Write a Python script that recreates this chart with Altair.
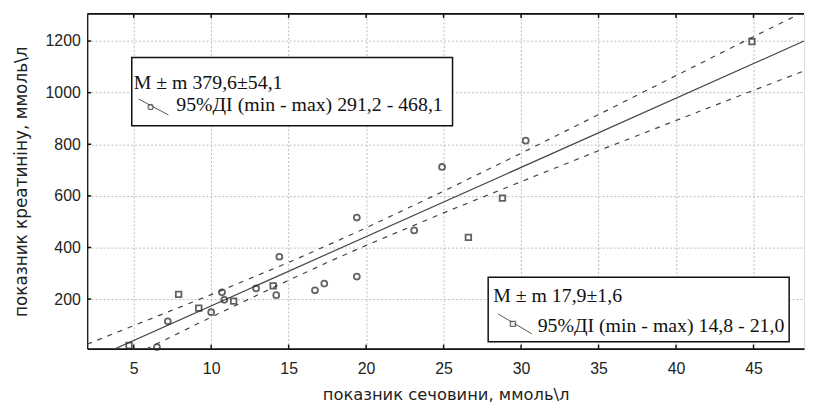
import altair as alt
import pandas as pd

# ---- data ----
x_circle = [7.2, 10.0, 10.7, 10.85, 12.9, 14.2, 14.4, 16.7, 17.3, 19.4, 19.4, 23.1, 24.9, 30.3, 6.5]
y_circle = [114, 149, 226, 197, 241, 215, 364, 234, 260, 287, 516, 466, 712, 814, 14]
x_square = [7.9, 9.2, 11.45, 14.0, 26.6, 28.8, 44.9, 4.7]
y_square = [218, 165, 192, 251, 439, 591, 1198, 20]

fit_x = [2, 48.26]
fit_y = [-41, 1200]

band_x = [2, 5, 10, 15, 17.9, 20, 25, 30, 35, 40, 45, 48.26]
band_upper = [25, 97, 217, 342, 419, 476, 618, 765, 915, 1066, 1217, 1314]
band_lower = [-107, -18, 130, 273, 353, 408, 534, 655, 775, 892, 1009, 1084]

x_ticks = [5, 10, 15, 20, 25, 30, 35, 40, 45]
y_ticks = [200, 400, 600, 800, 1000, 1200]

x_title = "показник сечовини, ммоль\\л"
y_title = "показник креатиніну, ммоль\\л"
box1_line1 = "M ± m 379,6±54,1"
box1_line2 = "95%ДІ (min - max) 291,2 - 468,1"
box2_line1 = "M ± m 17,9±1,6"
box2_line2 = "95%ДІ (min - max) 14,8 - 21,0"

W, H = 724, 338
XD = [2, 48.26]
YD = [8, 1305]

pts_c = pd.DataFrame({"x": x_circle, "y": y_circle})
pts_s = pd.DataFrame({"x": x_square, "y": y_square})
fit = pd.DataFrame({"x": fit_x, "y": fit_y})
band = pd.concat([
    pd.DataFrame({"x": band_x, "y": band_upper, "s": "u"}),
    pd.DataFrame({"x": band_x, "y": band_lower, "s": "l"}),
])

xs = alt.Scale(domain=XD, nice=False, zero=False)
ys = alt.Scale(domain=YD, nice=False, zero=False)

axis_font = "Liberation Sans"
title_font = "DejaVu Sans"
xaxis = alt.Axis(values=x_ticks, grid=True, gridColor="#bdbdbd", gridDash=[2, 2], gridWidth=1,
                 ticks=False, domainColor="#111", domainWidth=1.6, labelFont=axis_font,
                 labelFontSize=16, labelColor="#222", labelPadding=12, format="d", title=x_title,
                 titleFont=title_font, titleFontSize=16.5, titleFontWeight="normal", titleColor="#222",
                 titleX=362, titleY=46, titleBaseline="middle", titleAnchor="middle")
yaxis = alt.Axis(values=y_ticks, grid=True, gridColor="#bdbdbd", gridDash=[2, 2], gridWidth=1,
                 ticks=False, domainColor="#111", domainWidth=1.3, labelFont=axis_font,
                 labelFontSize=16, labelColor="#222", labelPadding=7, format="d", title=y_title,
                 titleFont=title_font, titleFontSize=17, titleFontWeight="normal", titleColor="#222",
                 titleX=-66, titleY=169, titleAngle=-90, titleBaseline="middle", titleAlign="center")

base_band = alt.Chart(band).mark_line(clip=True, color="#444", strokeWidth=1.2, strokeDash=[5, 6]).encode(
    x=alt.X("x:Q", scale=xs, axis=xaxis),
    y=alt.Y("y:Q", scale=ys, axis=yaxis),
    detail="s:N",
)
fit_line = alt.Chart(fit).mark_line(clip=True, color="#444", strokeWidth=1.2).encode(
    x=alt.X("x:Q", scale=xs), y=alt.Y("y:Q", scale=ys))
circles = alt.Chart(pts_c).mark_point(shape="circle", filled=False, color="#222", size=36, strokeWidth=1.8).encode(
    x=alt.X("x:Q", scale=xs), y=alt.Y("y:Q", scale=ys))
squares = alt.Chart(pts_s).mark_point(shape="square", filled=False, color="#222", size=32, strokeWidth=1.8).encode(
    x=alt.X("x:Q", scale=xs), y=alt.Y("y:Q", scale=ys))

# inner ticks and top border
xt = pd.DataFrame({"x": x_ticks})
yt = pd.DataFrame({"y": y_ticks})
ticks_bottom = alt.Chart(xt).mark_rule(color="#111", strokeWidth=1.5).encode(
    x=alt.X("x:Q", scale=xs), y=alt.value(H), y2=alt.value(H - 4))
ticks_top = alt.Chart(xt).mark_rule(color="#111", strokeWidth=1.5).encode(
    x=alt.X("x:Q", scale=xs), y=alt.value(0), y2=alt.value(4))
ticks_left = alt.Chart(yt).mark_rule(color="#111", strokeWidth=1.5).encode(
    y=alt.Y("y:Q", scale=ys), x=alt.value(0), x2=alt.value(4))
one = alt.Data(values=[{"a": 1}])
top_border = alt.Chart(one).mark_rule(color="#111", strokeWidth=1.8).encode(
    x=alt.value(0), x2=alt.value(W), y=alt.value(0))

serif = "Liberation Serif"
def box(x0, x1, y0, y1):
    return alt.Chart(one).mark_rect(fill="white", stroke="#111", strokeWidth=1.5).encode(
        x=alt.value(x0), x2=alt.value(x1), y=alt.value(y0), y2=alt.value(y1))

def txt(x, y, s):
    return alt.Chart(one).mark_text(align="left", baseline="alphabetic", font=serif, fontSize=20,
                                    color="#111", text=s).encode(x=alt.value(x), y=alt.value(y))

def icon(x0, y0, x1, y1, shape, mx, my):
    ln = alt.Chart(one).mark_rule(color="#555", strokeWidth=1).encode(
        x=alt.value(x0), y=alt.value(y0), x2=alt.value(x1), y2=alt.value(y1))
    mk = alt.Chart(one).mark_point(shape=shape, filled=True, fill="white", stroke="#333", size=26,
                                   strokeWidth=1.3).encode(x=alt.value(mx), y=alt.value(my))
    return ln + mk

legend1 = box(45, 369, 44, 113) + txt(47, 76, box1_line1) + txt(90, 98, box1_line2) + \
    icon(52, 86, 82, 102, "circle", 64, 94)
legend2 = box(405, 709, 266, 331) + txt(410, 291, box2_line1) + txt(455, 321, box2_line2) + \
    icon(415, 303, 449, 323, "square", 430, 313)

chart = alt.layer(
    base_band, fit_line, circles, squares, ticks_bottom, ticks_top, ticks_left, top_border,
    legend1, legend2,
).properties(
    width=W, height=H,
    padding={"left": 80, "top": 4, "right": 1, "bottom": 60},
    autosize=alt.AutoSizeParams(type="none"),
).configure_view(stroke=None).configure(background="white")

chart.save("out.html", embed_options={"renderer": "svg", "actions": False})
